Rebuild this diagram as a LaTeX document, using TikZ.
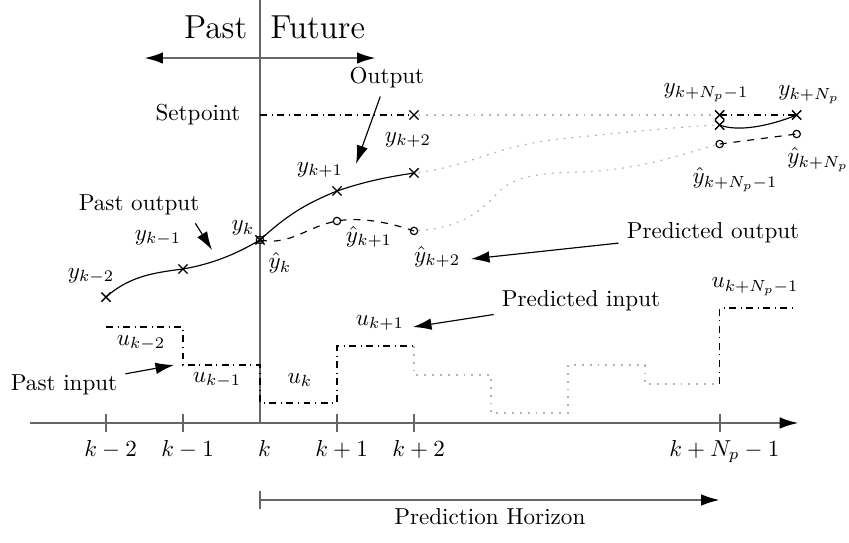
\documentclass[tikz,border=0pt]{standalone}
\usepackage{amsmath, amssymb}
\usepackage{tikz}
\usetikzlibrary{arrows.meta}
\usetikzlibrary{shapes.misc}
\usetikzlibrary{positioning}

\tikzset{
    axisline/.style={draw=black!60, line width=0.8pt},
    bighead/.style={-{Latex[length=8pt,width=5pt,color=black]}},
    note/.style={-{Latex[length=8pt,width=5pt]}, line width=0.5pt},
    xmark/.style={cross out, draw, inner sep=0pt, minimum size=3.4pt, line width=0.6pt},
    omark/.style={circle, draw, inner sep=0pt, minimum size=3.2pt, line width=0.5pt},
    spline/.style={dash dot, line width=0.5pt},
    futline/.style={gray!60, line width=0.5pt, dash pattern=on 0.8pt off 2.6pt},
    ticklab/.style={below, xshift=2pt},
}

\begin{document}
\begin{tikzpicture}[x=1.1714cm, y=1.1714cm]
        \useasboundingbox (-3.3766,-1.5584) rectangle (7.6494,5.4935);
        \def\kn{5.97} % position of k+N_p-1
        \def\sp{4} % setpoint level

        % time axis and present line
        \draw[axisline] (0,0) -- (0,5.4935);
        \draw[axisline, bighead] (-2.987,0) -- (6.99,0);
        \foreach \x/\lab/\nm in {-2/{k-2}/tkm2, -1/{k-1}/tkm1, 1/{k+1}/tkp1, 2/{k+2}/tkp2, \kn/{k+N_p-1}/tkn} {
            \draw[axisline] (\x,-0.12) -- (\x,0.12);
            \node[ticklab] (\nm) at (\x,-0.12) {$\lab$};
        }
        \node[ticklab] (tk) at (0,-0.12) {$k$};

        % past / future
        \node[anchor=base east, inner sep=0pt, font=\Large] (past) at (-0.16,4.99) {Past};
        \node[anchor=base west, inner sep=0pt, font=\Large] (future) at (0.13,4.99) {Future};
        \coordinate (pastend) at (-1.5,4.74);
        \coordinate (futend) at (1.5,4.74);
        \draw[axisline, {Latex[length=8pt,width=5pt,color=black]}-{Latex[length=8pt,width=5pt,color=black]}] (pastend) -- (futend);

        % prediction horizon
        \coordinate (hzs) at (0,-1);
        \coordinate (hze) at (\kn,-1);
        \draw[axisline] (0,-0.88) -- (0,-1.12);
        \draw[axisline, bighead] (hzs) -- (hze) node[midway, below] (hzlab) {Prediction Horizon};

        % setpoint
        \node[anchor=east] (setlab) at (-0.15,\sp) {Setpoint};
        \coordinate (r0) at (0,\sp);
        \node[xmark] (r2) at (2,\sp) {};
        \node[xmark] (rn) at (\kn,\sp) {};
        \node[xmark] (ykn1) at ({\kn+1},\sp) {};
        \draw[spline] (r0) -- (r2.center);
        \draw[futline] (r2) -- (rn);
        \draw[spline] (rn.center) -- (ykn1.center);

        % measured and predicted outputs
        \node[xmark] (ykm2) at (-2,1.636) {};
        \node[xmark] (ykm1) at (-1,2.0) {};
        \node[xmark] (yk) at (0,2.377) {};
        \node[omark] (yhk) at (0,2.377) {};
        \node[xmark] (yk1) at (1,3.013) {};
        \node[xmark] (yk2) at (2,3.247) {};
        \node[omark] (yhk1) at (1,2.623) {};
        \node[omark] (yhk2) at (2,2.494) {};
        \node[xmark] (ykn) at (\kn,3.870) {};
        \node[omark] (yhkn) at (\kn,3.623) {};
        \node[omark] (yhkn1) at ({\kn+1},3.753) {};

        \draw[line width=0.5pt] (ykm2.center) .. controls (-1.7,1.9) and (-1.4,1.95) .. (ykm1.center)
            .. controls (-0.6,2.07) and (-0.3,2.2) .. (yk.center)
            .. controls (0.35,2.7) and (0.6,2.85) .. (yk1.center)
            .. controls (1.4,3.15) and (1.7,3.2) .. (yk2.center);
        \draw[dashed, line width=0.5pt] (yhk.center) .. controls (0.4,2.30) and (0.6,2.55) .. (yhk1.center)
            .. controls (1.3,2.68) and (1.7,2.6) .. (yhk2.center);
        \draw[futline] (yk2) .. controls (2.8,3.35) and (3.0,3.6) .. (4,3.7)
            .. controls (5,3.8) and (5.5,3.85) .. (ykn);
        \draw[futline] (yhk2) .. controls (2.7,2.55) and (2.9,2.8) .. (3.1,3.0)
            .. controls (3.3,3.2) and (3.6,3.25) .. (4.2,3.26)
            .. controls (5,3.3) and (5.5,3.5) .. (yhkn);
        \draw[line width=0.5pt] (ykn.center) .. controls (6.2,3.78) and (6.6,3.85) .. (ykn1.center);
        \draw[dashed, line width=0.5pt] (yhkn.center) -- (yhkn1.center);

        % inputs
        \draw[spline] (-2,1.247) -| (-1,0.753) -| (0,0.26) -| (1,1.0) -- (2,1.0);
        \draw[futline] (2,1.0) |- (3,0.623) |- (4,0.13) |- (5,0.753) |- (\kn,0.506);
        \draw[spline] (\kn,0.506) |- ({\kn+1},1.494);

        % labels
        \node (lykm2) at (-2.195,1.909) {$y_{k-2}$};
        \node (lykm1) at (-1.325,2.403) {$y_{k-1}$};
        \node (lyk) at (-0.221,2.532) {$y_k$};
        \node (lyhk) at (0.26,2.078) {$\hat{y}_k$};
        \node (lyk1) at (0.779,3.286) {$y_{k+1}$};
        \node (lyhk1) at (1.416,2.416) {$\hat{y}_{k+1}$};
        \node (lyk2) at (1.922,3.675) {$y_{k+2}$};
        \node (lyhk2) at (2.3,2.156) {$\hat{y}_{k+2}$};
        \node (lykn) at (5.792,4.286) {$y_{k+N_p-1}$};
        \node (lykn1) at (7.13,4.26) {$y_{k+N_p}$};
        \node (lyhkn) at (6.169,3.156) {$\hat{y}_{k+N_p-1}$};
        \node (lyhkn1) at (7.247,3.416) {$\hat{y}_{k+N_p}$};
        \node (lukm2) at (-1.545,1.039) {$u_{k-2}$};
        \node (lukm1) at (-0.558,0.558) {$u_{k-1}$};
        \node (luk) at (0.519,0.558) {$u_k$};
        \node (luk1) at (1.558,1.299) {$u_{k+1}$};
        \node (lukn) at (6.43,1.766) {$u_{k+N_p-1}$};

        % annotations
        \node (outlab) at (1.649,4.48) {Output};
        \coordinate (outtip) at (1.247,3.364);
        \draw[note] (outlab) -- (outtip);
        \node (pastout) at (-1.571,2.831) {Past output};
        \coordinate (potip) at (-0.623,2.247);
        \draw[note] (pastout.-18) -- (potip);
        \node (predout) at (5.883,2.468) {Predicted output};
        \coordinate (prtip) at (2.74,2.13);
        \draw[note] (predout) -- (prtip);
        \node (predin) at (4.169,1.584) {Predicted input};
        \coordinate (pitip) at (1.987,1.247);
        \draw[note] (predin) -- (pitip);
        \node (pastin) at (-2.545,0.494) {Past input};
        \coordinate (patip) at (-1.117,0.753);
        \draw[note] (pastin) -- (patip);
\end{tikzpicture}
\end{document}
